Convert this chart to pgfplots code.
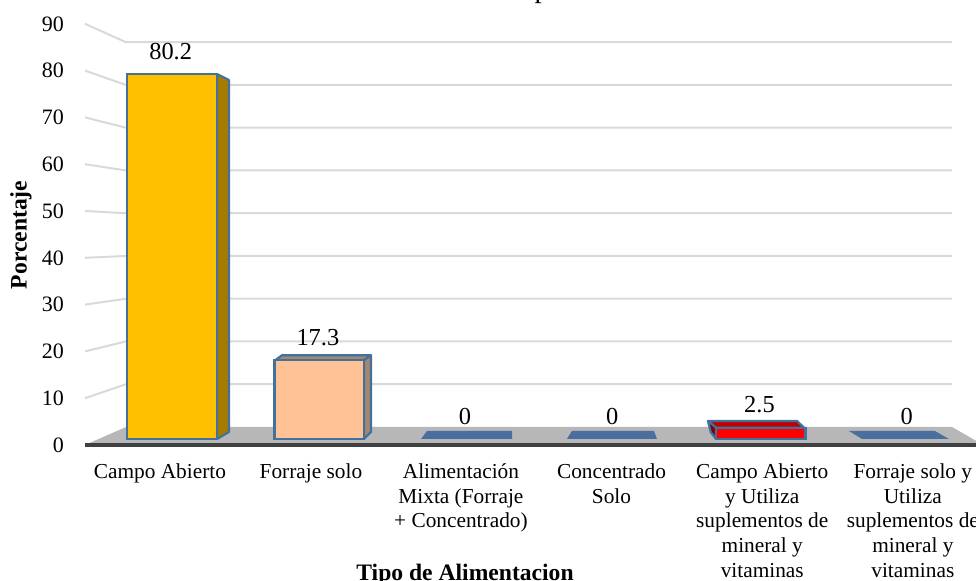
\documentclass[border=0pt]{standalone}
\usepackage{fontspec}
\setmainfont{Liberation Serif}
\usepackage{pgfplots}
\pgfplotsset{compat=1.18}
% sizes below: 1 px of the reference = 0.75pt
\definecolor{gridc}{HTML}{D9D9D9}
\definecolor{floorc}{HTML}{B7B7B7}
\definecolor{basec}{HTML}{404040}
\definecolor{edge}{HTML}{41719C}
\definecolor{zeroc}{HTML}{4A6E9E}
\definecolor{gold}{HTML}{FFC000}
\definecolor{goldside}{HTML}{A67C00}
\definecolor{peach}{HTML}{FFC296}
\definecolor{peachtop}{HTML}{A5866E}
\definecolor{redtop}{HTML}{BF0000}
\definecolor{redside}{HTML}{7F0000}
\pgfplotsset{
  face/.style={sharp plot,no markers,line width=1.6pt,draw=edge,line join=round},
  front/.style={ybar,bar width=67pt,bar shift=0pt,line width=1.6pt,draw=edge,
    nodes near coords,
    every node near coord/.append style={font=\fontsize{18.3}{20}\selectfont,
      text=black,anchor=center,yshift=17pt,xshift=-1pt}},
}
\begin{document}
\begin{tikzpicture}
\useasboundingbox (0,0) rectangle (732pt,435.75pt);
\clip (0,0) rectangle (732pt,435.75pt);
% walls, floor and the value axis
\begin{axis}[
  at={(49.5pt,102pt)},anchor=south west,
  scale only axis,width=682.5pt,height=315.9pt,
  xmin=66,xmax=976,ymin=0,ymax=90,clip=false,
  hide x axis,
  axis y line=left,y axis line style={draw=none,-},
  ytick={0,10,...,90},major tick length=0pt,
  /pgf/number format/assume math mode=true,
  yticklabel style={font=\fontsize{16.5}{18}\selectfont,xshift=2pt},
  ylabel={\textbf{Porcentaje}},
  ylabel style={at={(axis description cs:-0.0495,0.4986)},anchor=center,
    font=\fontsize{17.7}{20}\selectfont},
  title={Cotabambas – Apurímac},
  title style={at={(axis description cs:0.461,1.0445)},anchor=base,inner sep=0pt,
    font=\fontsize{21.7}{24}\selectfont},
]
\addplot[fill=floorc,draw=none] coordinates {(85,0)(126,3.85)(952,3.85)(976,0.9)(976,0)} --cycle;
\addplot[gridc,line width=1.5pt] coordinates {(85,10)(126,12.98)(952,12.98)};
\addplot[gridc,line width=1.5pt] coordinates {(85,20)(126,22.12)(952,22.12)};
\addplot[gridc,line width=1.5pt] coordinates {(85,30)(126,31.25)(952,31.25)};
\addplot[gridc,line width=1.5pt] coordinates {(85,40)(126,40.39)(952,40.39)};
\addplot[gridc,line width=1.5pt] coordinates {(85,50)(126,49.52)(952,49.52)};
\addplot[gridc,line width=1.5pt] coordinates {(85,60)(126,58.66)(952,58.66)};
\addplot[gridc,line width=1.5pt] coordinates {(85,70)(126,67.79)(952,67.79)};
\addplot[gridc,line width=1.5pt] coordinates {(85,80)(126,76.93)(952,76.93)};
\addplot[gridc,line width=1.5pt] coordinates {(85,90)(126,86.06)(952,86.06)};
\addplot[basec,line width=2.6pt] coordinates {(85,0)(976,0)};
\end{axis}
% bars: categories at 0,1,...,5
\begin{axis}[
  at={(49.5pt,106.5pt)},anchor=south west,
  scale only axis,width=682.5pt,height=307.125pt,
  xmin=-0.72,xmax=5.462,ymin=0,ymax=90,clip=false,
  hide y axis,
  axis x line=bottom,x axis line style={draw=none,-},
  major tick length=0pt,
  xtick={-0.082,0.944,1.963,2.986,4.010,5.033},
  xticklabels={
    Campo Abierto,
    Forraje solo,
    {Alimentación\\Mixta (Forraje\\+ Concentrado)},
    {Concentrado\\Solo},
    {Campo Abierto\\y Utiliza\\suplementos de\\mineral y\\vitaminas},
    {Forraje solo y\\Utiliza\\suplementos de\\mineral y\\vitaminas}},
  xticklabel style={align=center,anchor=north,yshift=-15pt,
    font=\fontsize{16}{18.5}\selectfont},
  /pgf/number format/assume math mode=true,
  xlabel={\textbf{Tipo de Alimentacion}},
  xlabel style={at={(axis description cs:0.4385,-0.3465)},anchor=base,inner sep=0pt,
    font=\fontsize{17.7}{20}\selectfont},
]
% Campo Abierto
\addplot[face,fill=goldside] coordinates {(0.306,80.2)(0.387,78.9)(0.387,1.54)(0.306,0)} --cycle;
\addplot[front,fill=gold] coordinates {(0,80.2)};
% Forraje solo
\addplot[face,fill=peachtop] coordinates {(0.70,17.3)(0.747,18.4)(1.352,18.4)(1.304,17.3)} --cycle;
\addplot[face,fill=peachtop] coordinates {(1.304,17.3)(1.352,18.4)(1.352,1.54)(1.304,0)} --cycle;
\addplot[front,fill=peach] coordinates {(1,17.3)};
% floor prints of the empty categories
\addplot[fill=zeroc,draw=none] coordinates {(1.692,0)(1.732,1.76)(2.31,1.76)(2.31,0)} --cycle;
\addplot[fill=zeroc,draw=none] coordinates {(2.683,0)(2.717,1.76)(3.274,1.76)(3.295,0)} --cycle;
\addplot[fill=zeroc,draw=none] coordinates {(4.688,0)(4.599,1.76)(5.183,1.76)(5.278,0)} --cycle;
\addplot[front,draw=none,fill=none] coordinates {(2,0)(3,0)(5,0)};
% Campo Abierto y suplementos
\addplot[face,fill=redtop] coordinates {(3.696,2.5)(3.641,3.96)(4.246,3.96)(4.294,2.5)} --cycle;
\addplot[face,fill=redside] coordinates {(3.696,2.5)(3.641,3.96)(3.66,1.5)(3.696,0)} --cycle;
\addplot[front,fill=red] coordinates {(4,2.5)};
\end{axis}
\end{tikzpicture}
\end{document}
